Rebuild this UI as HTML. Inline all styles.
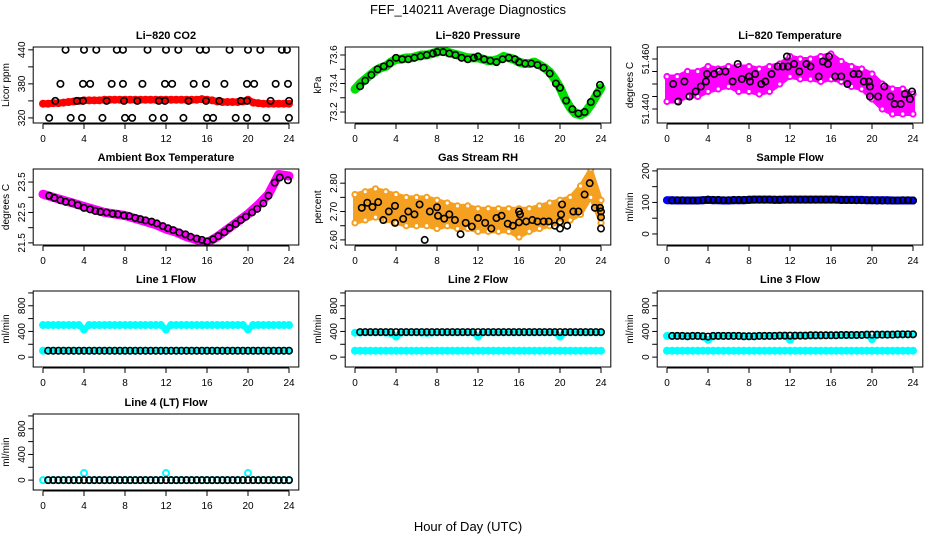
<!DOCTYPE html>
<html><head><meta charset="utf-8"><style>
html,body{margin:0;padding:0;background:#fff;width:936px;height:540px;overflow:hidden}
svg text{font-family:"Liberation Sans",Arial,sans-serif;fill:#000}
</style></head><body>
<svg id="chart" width="936" height="540" viewBox="0 0 936 540" xmlns="http://www.w3.org/2000/svg">
<rect width="936" height="540" fill="#fff"/>
<text x="468" y="14" font-size="13" text-anchor="middle">FEF_140211  Average Diagnostics</text>
<text x="468" y="531" font-size="13" text-anchor="middle">Hour of Day (UTC)</text>
</svg>
<script>
const hoursHalf=[0,0.5,1,1.5,2,2.5,3,3.5,4,4.5,5,5.5,6,6.5,7,7.5,8,8.5,9,9.5,10,10.5,11,11.5,12,12.5,13,13.5,14,14.5,15,15.5,16,16.5,17,17.5,18,18.5,19,19.5,20,20.5,21,21.5,22,22.5,23,23.5,24];
const hoursFull=[0,1,2,3,4,5,6,7,8,9,10,11,12,13,14,15,16,17,18,19,20,21,22,23,24];
const xTicks=[0,4,8,12,16,20,24];

const co2Band=[345,345,346,346,347,348,349,350,351,351,351,351,352,352,352,352,352,352,352,352,352,352,352,352,352,352,352,352,352,352,352,353,352,351,349,348,348,348,348,349,352,347,346,345,345,345,345,345,345];
const co2PtHours=[2.2,4.0,5.2,7.2,7.8,10.2,12.0,13.2,15.3,15.9,18.2,20.0,21.2,23.3,23.8,1.7,3.9,4.6,6.7,7.8,9.7,11.9,12.6,14.7,15.9,17.7,19.9,20.6,22.7,23.9,1.2,3.3,3.9,6.2,7.9,9.2,11.3,11.9,14.2,15.9,17.2,19.3,19.9,22.2,24.0,0.6,2.7,3.8,5.8,8.0,8.7,10.7,11.8,13.7,16.0,16.6,18.8,19.9,21.8,24.0];
const co2PtVals=[440,440,440,440,440,440,440,440,440,440,440,440,440,440,440,380,380,380,380,380,380,380,380,380,380,380,380,380,380,380,350,350,350,350,350,350,350,350,350,350,350,350,350,350,350,320,320,320,320,320,320,320,320,320,320,320,320,320,320,320];

const pressBand=[73.36,73.40,73.43,73.46,73.49,73.51,73.52,73.55,73.57,73.57,73.58,73.58,73.59,73.60,73.60,73.61,73.62,73.63,73.62,73.61,73.60,73.59,73.58,73.58,73.58,73.57,73.56,73.56,73.57,73.59,73.58,73.57,73.55,73.54,73.54,73.55,73.53,73.51,73.48,73.43,73.37,73.29,73.23,73.19,73.18,73.20,73.25,73.31,73.37];
const pressPtHours=[0.5,1,1.6,2.2,2.8,3.4,4,4.6,5.2,5.8,6.4,7,7.6,8,8.6,9.2,9.8,10.4,11,11.6,12,12.6,13.2,13.8,14.4,15,15.6,16,16.6,17.2,17.8,18.4,19,19.6,20,20.6,21.2,21.8,22.4,23,23.6,23.9];
const pressPtVals=[73.38,73.42,73.46,73.50,73.52,73.54,73.58,73.57,73.57,73.58,73.59,73.60,73.61,73.62,73.62,73.61,73.60,73.58,73.57,73.58,73.59,73.57,73.56,73.55,73.57,73.58,73.57,73.55,73.54,73.54,73.53,73.51,73.47,73.40,73.37,73.28,73.22,73.19,73.20,73.27,73.33,73.39];

const tempCenter=[51.448,51.448,51.450,51.450,51.452,51.452,51.453,51.452,51.452,51.451,51.452,51.454,51.457,51.456,51.456,51.456,51.457,51.455,51.453,51.452,51.449,51.445,51.443,51.443,51.442];
const tempSpread=[0.005,0.005,0.005,0.005,0.005,0.004,0.004,0.005,0.005,0.005,0.005,0.004,0.004,0.004,0.004,0.005,0.005,0.004,0.004,0.004,0.005,0.005,0.005,0.005,0.004];
const tempPtHours=[0.6,1.1,1.7,2.2,2.8,3.3,3.8,3.9,4.6,5.1,5.7,6.4,6.9,7.3,8,8.1,8.6,9.2,9.6,10.2,10.8,11.3,11.7,11.8,12.4,12.9,13.6,14,14.8,15.2,15.7,15.8,16.4,17,17.6,18.2,18.7,19.2,19.7,19.8,19.8,20.6,21.2,21.8,22.2,22.8,23.2,23.7,23.9];
const tempPtVals=[51.450,51.443,51.451,51.445,51.447,51.449,51.451,51.454,51.454,51.455,51.455,51.451,51.458,51.452,51.453,51.451,51.454,51.450,51.451,51.454,51.457,51.457,51.461,51.457,51.458,51.455,51.458,51.457,51.453,51.459,51.458,51.461,51.453,51.453,51.450,51.454,51.454,51.451,51.451,51.449,51.445,51.445,51.449,51.445,51.442,51.442,51.446,51.444,51.447];

const ambBand=[23.1,23.0,22.9,22.8,22.7,22.6,22.5,22.45,22.4,22.3,22.2,22.1,21.95,21.85,21.7,21.6,21.5,21.7,21.95,22.2,22.45,22.75,23.1,23.75,23.7];
const ambPtHours=[0.6,1.1,1.7,2.2,2.8,3.4,4,4.6,5.1,5.6,6.2,6.8,7.3,7.9,8.4,9,9.5,10,10.6,11.1,11.7,12.2,12.7,13.3,13.9,14.4,15,15.5,16,16.6,17.1,17.7,18.2,18.8,19.3,19.8,20.4,20.9,21.5,22,22.6,23.1,23.9];
const ambPtVals=[23.05,22.98,22.9,22.85,22.82,22.74,22.65,22.6,22.55,22.52,22.5,22.46,22.44,22.4,22.38,22.32,22.28,22.24,22.2,22.14,22.05,21.98,21.92,21.84,21.78,21.7,21.64,21.6,21.55,21.62,21.72,21.85,21.99,22.12,22.25,22.36,22.5,22.62,22.8,23.05,23.48,23.65,23.56];

const rhCenter=[2.71,2.72,2.73,2.72,2.71,2.70,2.70,2.70,2.69,2.69,2.68,2.68,2.67,2.67,2.67,2.67,2.66,2.67,2.68,2.69,2.70,2.71,2.74,2.80,2.70];
const rhSpread=[0.05,0.05,0.05,0.05,0.05,0.05,0.05,0.05,0.05,0.04,0.04,0.04,0.04,0.04,0.04,0.04,0.05,0.04,0.04,0.04,0.04,0.04,0.05,0.05,0.04];
const rhPtHours=[0.66,1.2,1.7,2.26,2.76,3.3,3.9,3.9,4.7,5.2,5.8,6.3,6.8,7.3,8.0,8.1,8.7,9.2,9.75,10.3,10.8,11.4,12,12.7,13.3,13.8,14.3,14.9,15.4,16,16,16.1,16.7,17.3,17.8,18.4,18.9,19.5,20,20,20.1,20.2,20.7,21.3,21.8,22.4,22.9,23.4,23.9,24,24,24];
const rhPtVals=[2.713,2.731,2.716,2.733,2.67,2.70,2.72,2.66,2.674,2.70,2.69,2.725,2.60,2.70,2.715,2.685,2.675,2.69,2.67,2.62,2.66,2.647,2.677,2.66,2.64,2.677,2.685,2.657,2.65,2.662,2.70,2.69,2.665,2.67,2.665,2.665,2.665,2.65,2.64,2.665,2.69,2.725,2.65,2.70,2.70,2.76,2.80,2.713,2.713,2.68,2.64,2.70];

const sampleBand=[107,107,106,106,106,106,106,107,108,107,107,106,106,107,107,107,108,109,109,109,109,108,108,109,109,109,109,109,109,109,109,109,109,109,108,108,108,108,108,107,107,107,107,107,106,106,106,106,106];
const samplePts=[106,106,107,107,106,106,106,107,109,108,108,107,107,108,108,108,109,109,109,109,109,109,109,109,109,109,109,109,109,109,109,109,109,109,108,108,108,107,107,107,107,106,106,106,106,106,107,107,106];

const line1High=[500,500,500,500,500,500,500,500,430,500,500,500,500,500,500,500,500,500,500,500,500,500,500,500,430,500,500,500,500,500,500,500,500,500,500,500,500,500,500,500,430,500,500,500,500,500,500,500,500];
const line1Low=[100,100,100,100,100,100,100,100,100,100,100,100,100,100,100,100,100,100,100,100,100,100,100,100,100,100,100,100,100,100,100,100,100,100,100,100,100,100,100,100,100,100,100,100,100,100,100,100,100];
const line2High=[380,380,385,385,385,385,380,370,320,380,385,385,385,380,375,380,385,385,385,385,385,385,385,385,320,385,385,385,385,385,385,385,385,385,385,385,385,385,385,385,320,385,385,385,385,385,385,385,385];
const line2Low=[100,100,100,100,100,100,100,100,100,100,100,100,100,100,100,100,100,100,100,100,100,100,100,100,100,100,100,100,100,100,100,100,100,100,100,100,100,100,100,100,100,100,100,100,100,100,100,100,100];
const line3High=[330,330,330,330,325,330,330,320,270,320,330,330,330,330,330,325,325,325,330,330,330,330,330,330,270,335,335,335,335,335,335,340,340,340,340,340,340,340,345,350,280,350,350,350,350,350,355,355,355];
const line3Low=[100,100,100,100,100,100,100,100,100,100,100,100,100,100,100,100,100,100,100,100,100,100,100,100,100,100,100,100,100,100,100,100,100,100,100,100,100,100,100,100,100,100,100,100,100,100,100,100,100];
const line4Vals=[0,0,0,0,0,0,0,0,110,0,0,0,0,0,0,0,0,0,0,0,0,0,0,0,110,0,0,0,0,0,0,0,0,0,0,0,0,0,0,0,110,0,0,0,0,0,0,0,0];
const line1Black=[100,100,100,100,100,100,100,100,100,100,100,100,100,100,100,100,100,100,100,100,100,100,100,100,100,100,100,100,100,100,100,100,100,100,100,100,100,100,100,100,100,100,100,100,100,100,100,100,100];
const line2Black=[390,390,390,390,390,390,390,390,390,390,390,390,390,390,390,390,390,390,390,390,390,390,390,390,390,390,390,390,390,390,390,390,390,390,390,390,390,390,390,390,390,390,390,390,390,390,390,390,390];
const line3Black=[330,330,330,330,325,330,330,325,320,330,330,330,330,330,330,325,325,325,330,330,330,330,335,335,335,335,335,335,340,340,340,340,340,340,345,345,345,345,345,350,350,350,350,350,350,355,355,355,355];
const line4Black=[0,0,0,0,0,0,0,0,0,0,0,0,0,0,0,0,0,0,0,0,0,0,0,0,0,0,0,0,0,0,0,0,0,0,0,0,0,0,0,0,0,0,0,0,0,0,0,0,0];

const NS="http://www.w3.org/2000/svg";
const svg=document.getElementById('chart');
function mk(tag,attrs,parent){const e=document.createElementNS(NS,tag);for(const k in attrs)e.setAttribute(k,attrs[k]);(parent||svg).appendChild(e);return e;}
const rowTops=[47,169,291,414];
const BOXH=76;

function panel(col,row,title,ylab,dom,ticks,labels,key){
  const x0=43+312*col, unit=246/24;
  const left=x0-9.8, right=x0+246+9.8, top=rowTops[row], bot=top+BOXH;
  const sx=h=>x0+h*unit;
  const sy=v=>bot-(v-dom[0])/(dom[1]-dom[0])*BOXH;
  const g=mk('g',{});
  
  
  const clip=mk('clipPath',{id:'c'+key},g);
  mk('rect',{x:left,y:top,width:right-left,height:BOXH},clip);
  const plot=mk('g',{'clip-path':'url(#c'+key+')'},g);
  
  
  const box=mk('rect',{x:left,y:top,width:right-left,height:BOXH,fill:'none',stroke:'#000','stroke-width':1},g);
  
  
  const t=mk('text',{x:(left+right)/2,y:top-8,'font-size':11,'font-weight':'bold','text-anchor':'middle'},g);
  t.textContent=title;
  
  
  const yl=mk('text',{transform:`translate(${left-24},${top+BOXH/2}) rotate(-90)`,'font-size':10,'text-anchor':'middle'},g);
  yl.textContent=ylab;
  
  
  const xa=mk('g',{},g);
  
  
  mk('line',{x1:sx(0),x2:sx(24),y1:bot+1,y2:bot+1,stroke:'#000'},xa);
  xTicks.forEach(h=>{
    mk('line',{x1:sx(h),x2:sx(h),y1:bot+1,y2:bot+6,stroke:'#000'},xa);
    const tl=mk('text',{x:sx(h),y:bot+19,'font-size':10,'text-anchor':'middle'},xa);
    tl.textContent=h;
    
    
  });
  const ya=mk('g',{},g);
  
  
  ticks.forEach(v=>{
    mk('line',{x1:left-5,x2:left,y1:sy(v),y2:sy(v),stroke:'#000'},ya);
  });
  labels.forEach(v=>{
    const tl=mk('text',{transform:`translate(${left-8},${sy(v)}) rotate(-90)`,'font-size':10,'text-anchor':'middle'},ya);
    tl.textContent=v.text;
    
    
  });
  return {sx,sy,plot};
}
function yLabels(vals,dec){return vals.map(v=>{const o=new Number(v);o.text=dec==null?String(v):v.toFixed(dec);return o;});}

function band(p,xs,ys,color,w,name){
  const d=xs.map((h,i)=>(i?'L':'M')+p.sx(h)+','+p.sy(ys[i])).join('');
  const e=mk('path',{d,fill:'none',stroke:color,'stroke-width':w,'stroke-linejoin':'round','stroke-linecap':'round'},p.plot);
  
  
  xs.forEach((h,i)=>{
    const c=mk('circle',{cx:p.sx(h),cy:p.sy(ys[i]),r:3,fill:'none',stroke:color,'stroke-width':2},p.plot);
    
    
  });
}
function area(p,xs,center,spread,color,name){
  const up=xs.map((h,i)=>p.sx(h)+','+p.sy(center[i]+spread[i]));
  const dn=xs.map((h,i)=>p.sx(h)+','+p.sy(center[i]-spread[i])).reverse();
  const e=mk('polygon',{points:up.concat(dn).join(' '),fill:color,stroke:color,'stroke-width':4,'stroke-linejoin':'round'},p.plot);
  
  
  xs.forEach((h,i)=>{
    [center[i]+spread[i],center[i]-spread[i]].forEach(v=>{
      const c=mk('circle',{cx:p.sx(h),cy:p.sy(v),r:2.6,fill:'#fff',stroke:color,'stroke-width':2},p.plot);
      
      
    });
  });
}
function pts(p,xs,ys,name){
  xs.forEach((h,i)=>{
    const c=mk('circle',{cx:p.sx(h),cy:p.sy(ys[i]),r:3.2,fill:'none',stroke:'#000','stroke-width':1.6},p.plot);
    
    
  });
}

let p=panel(0,0,'Li\u2212820 CO2','Licor ppm',[311,445],[320,350,380,410,440],yLabels([320,380,440]),'co2');
band(p,hoursHalf,co2Band,'#ff0000',7,'co2-band');
pts(p,co2PtHours,co2PtVals,'co2-average-point');

p=panel(1,0,'Li\u2212820 Pressure','kPa',[73.123,73.656],[73.2,73.3,73.4,73.5,73.6],yLabels([73.2,73.4,73.6],1),'pressure');
band(p,hoursHalf,pressBand,'#00e000',9,'pressure-band');
pts(p,pressPtHours,pressPtVals,'pressure-average-point');

p=panel(2,0,'Li\u2212820 Temperature','degrees C',[51.4344,51.4648],[51.44,51.445,51.45,51.455,51.46],yLabels([51.44,51.46],3),'li820-temp');
area(p,hoursFull,tempCenter,tempSpread,'#ff00ff','li820-temp-cloud');
pts(p,tempPtHours,tempPtVals,'li820-temp-average-point');

p=panel(0,1,'Ambient Box Temperature','degrees C',[21.43,23.93],[21.5,22,22.5,23,23.5],yLabels([21.5,22.5,23.5],1),'ambient');
band(p,hoursFull,ambBand,'#ff00ff',9,'ambient-band');
pts(p,ambPtHours,ambPtVals,'ambient-average-point');

p=panel(1,1,'Gas Stream RH','percent',[2.582,2.85],[2.6,2.65,2.7,2.75,2.8],yLabels([2.6,2.7,2.8],2),'rh');
area(p,hoursFull,rhCenter,rhSpread,'#f5a020','rh-cloud');
pts(p,rhPtHours,rhPtVals,'rh-average-point');

p=panel(2,1,'Sample Flow','ml/min',[-35,206],[0,50,100,150,200],yLabels([0,100,200]),'sample');
band(p,hoursHalf,sampleBand,'#0000ff',8,'sample-band');
pts(p,hoursHalf.slice(1),samplePts.slice(1),'sample-average-point');

const fDom=[-154,1030], fT=[0,200,400,600,800,1000], fL=yLabels([0,400,800]);
p=panel(0,2,'Line 1 Flow','ml/min',fDom,fT,fL,'line1');
band(p,hoursHalf,line1High,'#00ffff',6,'line1-high-band');
band(p,hoursHalf,line1Low,'#00ffff',6,'line1-low-band');
pts(p,hoursHalf.slice(1),line1Black.slice(1),'line1-average-point');

p=panel(1,2,'Line 2 Flow','ml/min',fDom,fT,fL,'line2');
band(p,hoursHalf,line2High,'#00ffff',6,'line2-high-band');
band(p,hoursHalf,line2Low,'#00ffff',6,'line2-low-band');
pts(p,hoursHalf.slice(1),line2Black.slice(1),'line2-average-point');

p=panel(2,2,'Line 3 Flow','ml/min',fDom,fT,fL,'line3');
band(p,hoursHalf,line3High,'#00ffff',6,'line3-high-band');
band(p,hoursHalf,line3Low,'#00ffff',6,'line3-low-band');
pts(p,hoursHalf.slice(1),line3Black.slice(1),'line3-average-point');

p=panel(0,3,'Line 4 (LT) Flow','ml/min',fDom,fT,fL,'line4');
hoursHalf.forEach((h,i)=>{
  const c=mk('circle',{cx:p.sx(h),cy:p.sy(line4Vals[i]),r:3,fill:'none',stroke:'#00ffff','stroke-width':2},p.plot);
  
  
});
pts(p,hoursHalf.slice(1),line4Black.slice(1),'line4-average-point');
</script>
</body></html>
